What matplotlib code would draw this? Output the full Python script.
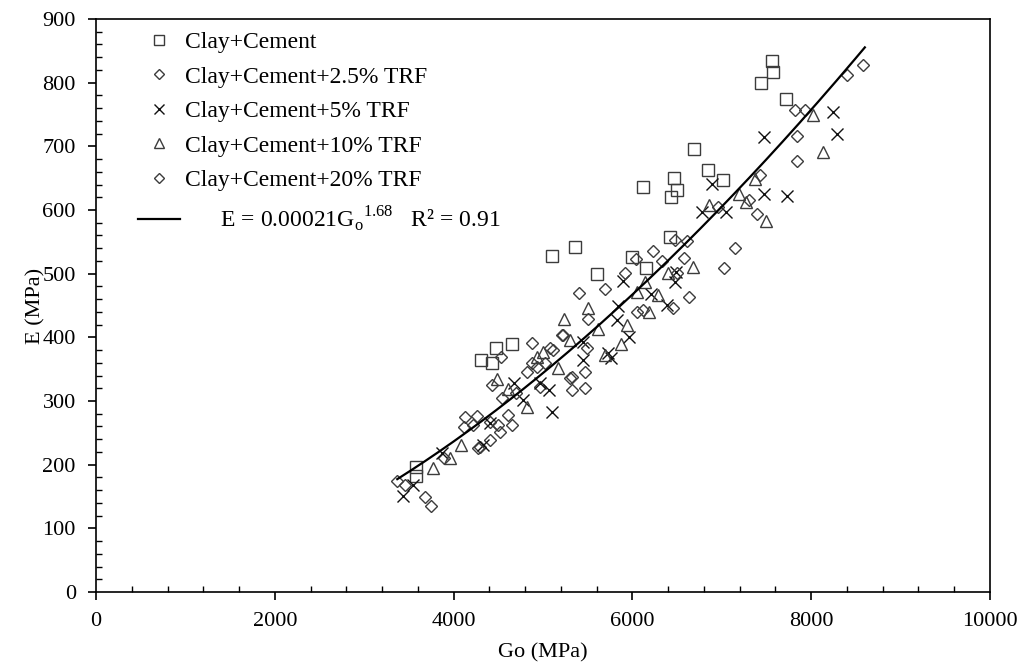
import matplotlib.pyplot as plt
import numpy as np
from matplotlib.lines import Line2D
from matplotlib.ticker import MultipleLocator

plt.rcParams['font.family'] = ['Liberation Serif', 'DejaVu Serif']
plt.rcParams['mathtext.fontset'] = 'custom'
plt.rcParams['mathtext.rm'] = 'Liberation Serif'

# Clay+Cement
go_cc = [7562, 7573, 7438, 7718, 6689, 6846, 7013, 6465, 6499, 6432, 6119, 6421,
         5101, 5358, 5996, 6152, 5604, 4474, 4653, 4306, 4430, 3579, 3579]
e_cc = [834, 817, 799, 774, 696, 663, 647, 650, 631, 620, 636, 558,
        528, 542, 526, 509, 499, 383, 390, 364, 360, 196, 182]

# Clay+Cement+2.5% TRF
go_25 = [8579, 7819, 7841, 7427, 7394, 7025, 6477, 6577, 6633, 6230, 6040, 5694,
         5503, 5470, 5325, 6051, 5078, 4877, 4430, 4128, 4116, 4407, 4519, 4295,
         4609, 4821, 5213, 3367, 3680, 3893, 4407, 4966]
e_25 = [828, 757, 716, 655, 594, 509, 553, 524, 463, 536, 523, 476,
        429, 346, 317, 440, 383, 391, 325, 275, 259, 267, 251, 228,
        278, 346, 404, 174, 149, 210, 239, 322]

# Clay+Cement+5% TRF
go_5 = [3434, 3546, 3870, 4329, 4407, 4676, 4776, 4966, 5067, 5101, 5447, 5447,
        5727, 5761, 5828, 5839, 5895, 5962, 6208, 6387, 6477, 6488, 6779, 6890,
        7047, 7472, 7472, 7729, 8244, 8289]
e_5 = [151, 168, 218, 231, 265, 328, 301, 328, 317, 283, 393, 364,
       375, 368, 427, 449, 488, 401, 468, 451, 487, 503, 597, 641,
       597, 625, 715, 622, 754, 719]

# Clay+Cement+10% TRF
go_10 = [3770, 3960, 4083, 4485, 4609, 4821, 4933, 5000, 5168, 5235, 5302, 5503,
         5615, 5694, 5872, 5940, 6051, 6141, 6186, 6286, 6398, 6678, 6857, 7192,
         7271, 7371, 7494, 8020, 8132]
e_10 = [195, 210, 231, 334, 319, 291, 369, 377, 352, 429, 396, 446,
        413, 372, 390, 419, 471, 487, 440, 466, 501, 510, 608, 625,
        613, 648, 583, 749, 691]

# Clay+Cement+20% TRF
go_20 = [8400, 7931, 7841, 7304, 7148, 6957, 6611, 6499, 6454, 6331, 5917, 5403,
         5492, 5470, 5302, 6119, 5224, 4530, 4541, 4262, 4217, 4497, 4653, 4877,
         5112, 5325, 3456, 3747, 4273, 4933, 4700, 5020]
e_20 = [812, 757, 677, 616, 540, 605, 551, 501, 446, 520, 501, 469,
        383, 320, 336, 443, 404, 369, 305, 276, 262, 262, 262, 360,
        380, 338, 168, 135, 226, 353, 312, 360]

# power-law fit E = a * Go^b
fit_a = 0.00021
fit_b = 1.68
fit_range = (3370, 8600)

fig = plt.figure(figsize=(10.27, 6.67), dpi=100)
ax = fig.add_axes([96 / 1027, 1 - 592 / 667, 894 / 1027, 573 / 667])

mk_edge = '#3c3c3c'
common = dict(linestyle='none', markerfacecolor='none', markeredgewidth=1.0)
ax.plot(go_cc, e_cc, marker='s', markersize=8.6, markeredgecolor=mk_edge, **common)
ax.plot(go_25, e_25, marker='D', markersize=5.8, markeredgecolor=mk_edge, **common)
ax.plot(go_5, e_5, marker='x', markersize=8.6, markeredgecolor='#111111', **common)
ax.plot(go_10, e_10, marker='^', markersize=8.6, markeredgecolor=mk_edge, **common)
ax.plot(go_20, e_20, marker='D', markersize=5.8, markeredgecolor=mk_edge, **common)

g_fit = np.linspace(fit_range[0], fit_range[1], 200)
ax.plot(g_fit, fit_a * g_fit ** fit_b, color='black', linewidth=1.6)

ax.set_xlim(0, 10000)
ax.set_ylim(0, 900)
ax.xaxis.set_major_locator(MultipleLocator(2000))
ax.xaxis.set_minor_locator(MultipleLocator(400))
ax.yaxis.set_major_locator(MultipleLocator(100))
ax.yaxis.set_minor_locator(MultipleLocator(20))
ax.tick_params(which='major', direction='out', length=5.5, width=1.2, labelsize=16)
ax.tick_params(axis='x', which='major', pad=9)
ax.tick_params(axis='y', which='major', pad=9)
ax.tick_params(which='minor', direction='in', length=4, width=1.0)
for sp in ax.spines.values():
    sp.set_linewidth(1.2)

ax.set_xlabel('Go (MPa)', fontsize=16, labelpad=9)
ax.set_ylabel('E (MPa)', fontsize=16, labelpad=-2)

handles = [
    Line2D([], [], marker='s', markersize=7, markeredgecolor=mk_edge, **common),
    Line2D([], [], marker='D', markersize=5, markeredgecolor=mk_edge, **common),
    Line2D([], [], marker='x', markersize=7, markeredgecolor='#111111', **common),
    Line2D([], [], marker='^', markersize=7, markeredgecolor=mk_edge, **common),
    Line2D([], [], marker='D', markersize=5, markeredgecolor=mk_edge, **common),
    Line2D([], [], color='black', linewidth=1.6),
]
labels = [
    'Clay+Cement',
    'Clay+Cement+2.5% TRF',
    'Clay+Cement+5% TRF',
    'Clay+Cement+10% TRF',
    'Clay+Cement+20% TRF',
    '      E = 0.00021G$_\\mathregular{o}$$^\\mathregular{1.68}$   R² = 0.91',
]
ax.legend(handles, labels, loc='upper left', bbox_to_anchor=(0.047, 0.978),
          frameon=False, fontsize=17, handlelength=1.78, handletextpad=0.2,
          labelspacing=0.55, borderpad=0, borderaxespad=0)

fig.savefig('out.png', dpi=100)
